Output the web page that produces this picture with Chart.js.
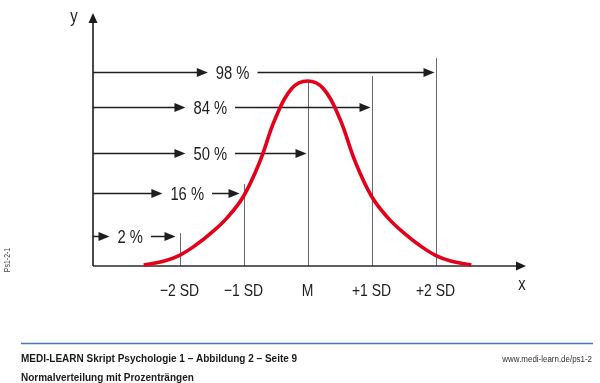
<!DOCTYPE html>
<html>
<head>
<meta charset="utf-8">
<script src="https://cdn.jsdelivr.net/npm/chart.js@4/dist/chart.umd.min.js"></script>
<style>
  html, body { margin: 0; padding: 0; background: #ffffff; }
  #wrap { position: relative; width: 600px; height: 383px; }
  canvas { display: block; }
</style>
</head>
<body>
<div id="wrap"><canvas id="c" width="600" height="383"></canvas></div>
<script>
// ---- data (x in SD units, y in relative density, peak = 1) ----
const curveX = [-2.56, -2.25, -2.0, -1.75, -1.5, -1.25, -1.0, -0.75, -0.5, -0.25, 0, 0.25, 0.5, 0.75, 1.0, 1.25, 1.5, 1.75, 2.0, 2.25, 2.56];
const curveY = [0.005, 0.026, 0.058, 0.112, 0.180, 0.263, 0.377, 0.560, 0.800, 0.958, 1.0, 0.958, 0.800, 0.560, 0.377, 0.263, 0.180, 0.112, 0.058, 0.026, 0.005];
const sdTicks = [-2, -1, 0, 1, 2];
const tickLabels = ['\u22122 SD', '\u22121 SD', 'M', '+1 SD', '+2 SD'];
const guideTops = [0.178, 0.443, 1.0, 1.027, 1.124];
const percentLabels = ['2 %', '16 %', '50 %', '84 %', '98 %'];
const percentLevels = [0.162, 0.396, 0.611, 0.861, 1.049];
const percentTargets = [-2, -1, 0, 1, 2];
const percentLabelPos = [-2.77, -1.88, -1.52, -1.52, -1.17];
const axisTitles = ['x', 'y'];
const footerTitle = 'MEDI-LEARN Skript Psychologie 1 \u2013 Abbildung 2 \u2013 Seite 9';
const footerSubtitle = 'Normalverteilung mit Prozenträngen';
const footerUrl = 'www.medi-learn.de/ps1-2';
const sideCode = 'Ps1-2-1';

const SANS = '"Liberation Sans", Arial, sans-serif';
const INK = '#1e1e1e';
const NARROW_K = 0.82;

// draw horizontally condensed text (Arial-Narrow-like)
function narrowText(ctx, text, x, y, size, align, k) {
  k = k || NARROW_K;
  ctx.save();
  ctx.font = size + 'px ' + SANS;
  ctx.textAlign = 'left';
  ctx.textBaseline = 'alphabetic';
  const w = ctx.measureText(text).width * k;
  let left = x;
  if (align === 'center') left = x - w / 2;
  else if (align === 'right') left = x - w;
  ctx.translate(left, y);
  ctx.scale(k, 1);
  ctx.fillText(text, 0, 0);
  ctx.restore();
  return w;
}
function narrowWidth(ctx, text, size, k) {
  ctx.save();
  ctx.font = size + 'px ' + SANS;
  const w = ctx.measureText(text).width * (k || NARROW_K);
  ctx.restore();
  return w;
}

function arrowHead(ctx, x, y, dir, len, half) {
  ctx.beginPath();
  if (dir === 'right') {
    ctx.moveTo(x, y); ctx.lineTo(x - len, y - half); ctx.lineTo(x - len, y + half);
  } else {
    ctx.moveTo(x, y); ctx.lineTo(x - half, y + len); ctx.lineTo(x + half, y + len);
  }
  ctx.closePath();
  ctx.fill();
}
function hArrow(ctx, x1, x2, y) {
  ctx.beginPath();
  ctx.moveTo(x1, y); ctx.lineTo(x2 - 8, y);
  ctx.stroke();
  arrowHead(ctx, x2, y, 'right', 11, 4.5);
}

const decor = {
  id: 'decor',
  beforeDatasetsDraw(chart) {
    const ctx = chart.ctx, xs = chart.scales.x, ys = chart.scales.y, a = chart.chartArea;
    ctx.save();
    // guide verticals
    ctx.strokeStyle = '#6a6a6a'; ctx.lineWidth = 1;
    sdTicks.forEach((t, i) => {
      const px = Math.round(xs.getPixelForValue(t)) + 0.5;
      ctx.beginPath();
      ctx.moveTo(px, ys.getPixelForValue(0));
      ctx.lineTo(px, ys.getPixelForValue(guideTops[i]));
      ctx.stroke();
    });
    // axes
    ctx.strokeStyle = '#2a2a2a'; ctx.fillStyle = '#1a1a1a'; ctx.lineWidth = 1.7;
    const x0 = a.left, y0 = ys.getPixelForValue(0);
    ctx.beginPath(); ctx.moveTo(x0, y0); ctx.lineTo(x0, a.top + 8); ctx.stroke();
    arrowHead(ctx, x0, a.top, 'up', 10, 4.5);
    ctx.beginPath(); ctx.moveTo(x0, y0); ctx.lineTo(a.right - 8, y0); ctx.stroke();
    arrowHead(ctx, a.right, y0, 'right', 10, 4.5);
    // percentile arrows
    ctx.lineWidth = 1.5; ctx.strokeStyle = INK; ctx.fillStyle = INK;
    percentLabels.forEach((lab, i) => {
      const py = Math.round(ys.getPixelForValue(percentLevels[i])) + 0.5;
      const cx = xs.getPixelForValue(percentLabelPos[i]);
      const w = narrowWidth(ctx, lab, 18);
      const left = cx - w / 2, right = cx + w / 2;
      hArrow(ctx, x0, left - 8, py);
      const tx = xs.getPixelForValue(percentTargets[i]) - (i < 2 ? 4 : 1);
      hArrow(ctx, right + 8, tx, py);
      narrowText(ctx, lab, left, py + 6.4, 18, 'left');
    });
    ctx.restore();
  },
  afterDraw(chart) {
    const ctx = chart.ctx, xs = chart.scales.x, ys = chart.scales.y, a = chart.chartArea;
    ctx.save();
    ctx.fillStyle = INK;
    // tick labels
    sdTicks.forEach((t, i) => narrowText(ctx, tickLabels[i], xs.getPixelForValue(t), 296, 17, 'center'));
    // axis titles
    narrowText(ctx, axisTitles[0], a.right - 4, 290, 18, 'center');
    narrowText(ctx, axisTitles[1], 74, 22, 18, 'center');
    // footer rule
    ctx.strokeStyle = '#4a78bd'; ctx.lineWidth = 1.5;
    ctx.beginPath(); ctx.moveTo(21, 343.5); ctx.lineTo(593, 343.5); ctx.stroke();
    // footer text
    ctx.fillStyle = '#1a1a1a';
    ctx.textAlign = 'left';
    ctx.textBaseline = 'alphabetic';
    ctx.font = 'bold 10px ' + SANS;
    ctx.fillText(footerTitle, 21, 361.5);
    ctx.fillText(footerSubtitle, 21, 380.5);
    ctx.fillStyle = '#333';
    narrowText(ctx, footerUrl, 592, 361.5, 9.7, 'right');
    // side code
    ctx.save();
    ctx.translate(10, 260); ctx.rotate(-Math.PI / 2);
    ctx.fillStyle = '#444';
    narrowText(ctx, sideCode, 0, 0, 8.5, 'center');
    ctx.restore();
    ctx.restore();
  }
};

new Chart(document.getElementById('c'), {
  type: 'line',
  data: {
    datasets: [{
      data: curveX.map((x, i) => ({ x: x, y: curveY[i] })),
      borderColor: '#e2001a',
      borderWidth: 3.6,
      pointRadius: 0,
      fill: false,
      tension: 0.4,
      clip: false
    }]
  },
  options: {
    responsive: false,
    animation: false,
    events: [],
    layout: { padding: { left: 93, right: 74, top: 13, bottom: 117 } },
    plugins: { legend: { display: false }, tooltip: { enabled: false } },
    scales: {
      x: { type: 'linear', min: -3.352, max: 3.414, display: false },
      y: { type: 'linear', min: 0, max: 1.3676, display: false }
    }
  },
  plugins: [decor]
});
</script>
</body>
</html>
